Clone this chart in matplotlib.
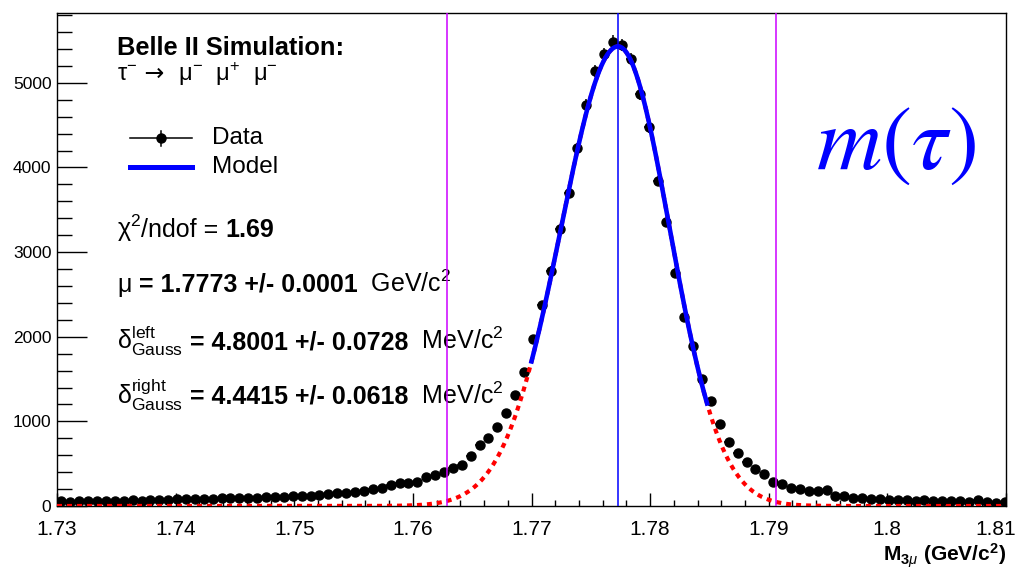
import matplotlib
matplotlib.use("Agg")
import matplotlib.pyplot as plt
import matplotlib.transforms as mtransforms
import numpy as np
from matplotlib.ticker import MultipleLocator

plt.rcParams["font.family"] = ["Liberation Sans", "DejaVu Sans"]
plt.rcParams["mathtext.fontset"] = "custom"
plt.rcParams["mathtext.rm"] = "Liberation Sans"
plt.rcParams["mathtext.it"] = "Liberation Sans:italic"
plt.rcParams["mathtext.bf"] = "Liberation Sans:bold"

# binned M(3mu) sample, 0.75 MeV bins starting at 1.73 GeV
x_lo, x_hi = 1.73, 1.81
bin_width = 0.00075
counts = [
    55, 52, 58, 54, 60, 57, 55, 62, 66, 64,
    70, 73, 71, 78, 80, 84, 82, 88, 92, 90,
    96, 100, 98, 104, 108, 110, 114, 116, 119, 128,
    136, 148, 155, 167, 175, 195, 207, 254, 266, 273,
    285, 344, 364, 403, 451, 490, 589, 719, 798, 928,
    1100, 1310, 1585, 1975, 2373, 2779, 3272, 3701, 4226, 4738,
    5143, 5340, 5486, 5447, 5278, 4864, 4474, 3839, 3358, 2755,
    2228, 1889, 1495, 1240, 970, 758, 630, 518, 442, 380,
    282, 262, 207, 195, 178, 178, 185, 119, 119, 100,
    100, 80, 80, 76, 76, 76, 60, 68, 60, 56,
    56, 56, 48, 68, 48, 40, 48,
]

# bifurcated gaussian as drawn (GeV); widths
mu = 1.7773
sigma_left = 0.0048
sigma_right = 0.00433
peak = 5430
fit_range = (1.7700, 1.7848)
window = [1.7629, 1.7906]

x_ticks = [1.73, 1.74, 1.75, 1.76, 1.77, 1.78, 1.79, 1.80, 1.81]
x_tick_labels = ["1.73", "1.74", "1.75", "1.76", "1.77", "1.78", "1.79", "1.8", "1.81"]
y_ticks = [0, 1000, 2000, 3000, 4000, 5000]
y_max = 5825


def model(x):
    sig = np.where(x < mu, sigma_left, sigma_right)
    return peak * np.exp(-0.5 * ((x - mu) / sig) ** 2)


def put_row(ax, x, y, pieces, size):
    # draw text pieces one after another on a common baseline
    renderer = ax.figure.canvas.get_renderer()
    for piece in pieces:
        s, weight = piece[0], piece[1]
        extra = piece[2] if len(piece) > 2 else {}
        t = ax.text(x, y, s, transform=ax.transAxes, fontsize=size,
                    fontweight=weight, ha="left", va="baseline", **extra)
        bb = t.get_window_extent(renderer)
        x += bb.width / ax.bbox.width


def px(x, y):
    # pixel position in the picture -> axes fraction
    return (x - 57) / 949, (506 - y) / 493


def main():
    fig = plt.figure(figsize=(10.21, 5.69), dpi=100)
    ax = fig.add_axes([57 / 1021, 1 - 506 / 569, 949 / 1021, 493 / 569])

    y = np.array(counts, dtype=float)
    centers = x_lo + bin_width * (np.arange(len(y)) + 0.5)
    ax.errorbar(centers, y, xerr=bin_width / 2, yerr=np.sqrt(y), fmt="o",
                color="black", ms=6.5, elinewidth=1.1, capsize=0, zorder=3)

    xs = np.linspace(x_lo, x_hi, 1000)
    ax.plot(xs, model(xs), color="red", lw=3, ls=(0, (1.2, 1.2)), zorder=4)
    xf = np.linspace(fit_range[0], fit_range[1], 400)
    ax.plot(xf, model(xf), color="blue", lw=3.3, zorder=5)
    for w in window:
        ax.axvline(w, color="#cc00ff", lw=1.1, zorder=6)
    ax.axvline(mu, color="blue", lw=1.1, zorder=6)

    ax.set_xlim(x_lo, x_hi)
    ax.set_ylim(0, y_max)
    ax.set_xticks(x_ticks)
    ax.set_xticklabels(x_tick_labels)
    ax.set_yticks(y_ticks)
    ax.set_yticklabels([str(v) for v in y_ticks])
    ax.xaxis.set_minor_locator(MultipleLocator(0.002))
    ax.yaxis.set_minor_locator(MultipleLocator(200))
    ax.tick_params(axis="x", which="major", direction="in", length=9.4,
                   width=1, labelsize=15, pad=10)
    ax.tick_params(axis="x", which="minor", direction="in", length=4.3, width=1)
    ax.tick_params(axis="y", which="major", direction="in", length=21.6,
                   width=1, labelsize=12.5, pad=4)
    ax.tick_params(axis="y", which="minor", direction="in", length=10.8, width=1)
    for s in ax.spines.values():
        s.set_linewidth(1)
    # last label sits a little inside the frame, as in ROOT
    last = ax.get_xticklabels()[-1]
    last.set_transform(last.get_transform()
                       + mtransforms.ScaledTranslation(-0.10, 0, fig.dpi_scale_trans))

    ax.text(*px(117, 55), "Belle II Simulation:", transform=ax.transAxes,
            fontsize=18.3, fontweight="bold", va="baseline")
    put_row(ax, *px(117, 81), [(r"$\mathrm{\tau}^{-}$", "normal"),
                               (" \u2192 ", "normal", {"family": ["DejaVu Sans"]}),
                               (r"$\ \mathrm{\mu}^{-}\ \ \mathrm{\mu}^{+}\ \ \mathrm{\mu}^{-}$", "normal")], 17)

    # legend
    x0, yd = px(130, 138)
    x1, ym = px(192, 167)
    xm, _ = px(161, 138)
    ax.plot([x0, x1], [yd, yd], color="black", lw=1.1, transform=ax.transAxes)
    ax.plot([xm, xm], [yd - 7.5 / 493, yd + 7.5 / 493], color="black", lw=1.1,
            transform=ax.transAxes)
    ax.plot([xm], [yd], "o", color="black", ms=6.5, transform=ax.transAxes)
    ax.plot([x0, x1], [ym, ym], color="blue", lw=3.6, transform=ax.transAxes)
    ax.text(px(212, 0)[0], yd, "Data", transform=ax.transAxes, fontsize=17.5, va="center")
    ax.text(px(212, 0)[0], ym, "Model", transform=ax.transAxes, fontsize=17.5, va="center")

    # fit summary
    size = 18
    put_row(ax, *px(117, 237), [(r"$\mathrm{\chi}^{2}$", "normal"), ("/ndof = ", "normal"),
                                ("1.69", "bold")], size)
    put_row(ax, *px(117, 292), [(r"$\mathrm{\mu}$", "normal"),
                                (" = 1.7773 +/- 0.0001", "bold"), ("  GeV/c$^{2}$", "normal")], size)
    put_row(ax, *px(117, 349), [(r"$\mathrm{\delta}^{\mathrm{left}}_{\mathrm{Gauss}}$", "normal"),
                                (" = 4.8001 +/- 0.0728", "bold"), ("  MeV/c$^{2}$", "normal")], size)
    put_row(ax, *px(117, 404), [(r"$\mathrm{\delta}^{\mathrm{right}}_{\mathrm{Gauss}}$", "normal"),
                                (" = 4.4415 +/- 0.0618", "bold"), ("  MeV/c$^{2}$", "normal")], size)

    ax.text(*px(896, 169), r"$m(\tau)$", transform=ax.transAxes, fontsize=65,
            color="#0000ff", math_fontfamily="stix", ha="center", va="baseline")

    ax.text(1.0, px(0, 562)[1], r"M$_{\mathbf{3}\mu}$ (GeV/c$^{\mathbf{2}}$)",
            transform=ax.transAxes, fontsize=15, fontweight="bold",
            ha="right", va="baseline")

    fig.savefig("out.png", dpi=100)


if __name__ == "__main__":
    main()
